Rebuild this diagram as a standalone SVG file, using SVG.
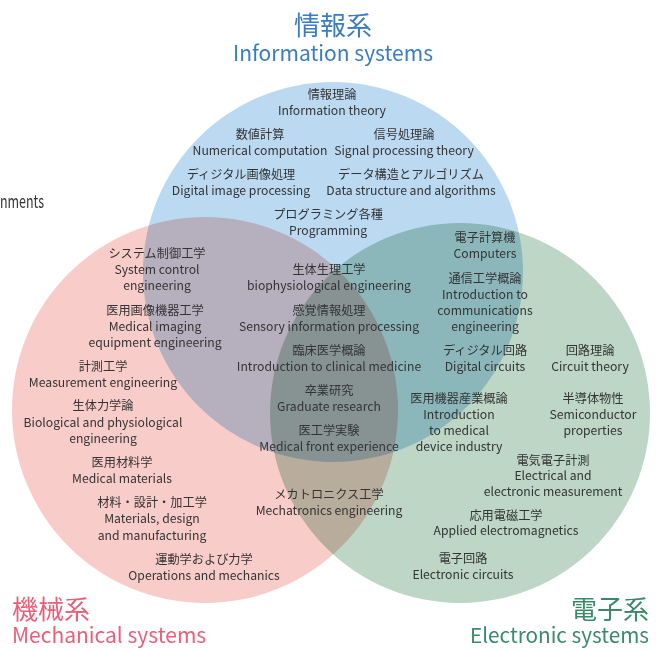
<svg xmlns="http://www.w3.org/2000/svg" width="666" height="651" viewBox="0 0 666 651">
<style>
text{font-family:"Noto Sans CJK JP","Noto Sans",sans-serif;}
.t{font-size:12.2px;fill:#333;text-anchor:middle;}
.c{mix-blend-mode:multiply;}
</style>
<rect width="666" height="651" fill="#fff"/>
<g id="circles" style="isolation:isolate">
<circle id="info-circle" class="c" cx="333" cy="272" r="190" fill="#bbdaf1"/>
<circle id="mech-circle" class="c" cx="205" cy="410" r="193" fill="#f8cdc9"/>
<circle id="elec-circle" class="c" cx="460" cy="413" r="190" fill="#bdd6c6"/>
</g>
<g id="titles">
<text x="333" y="35" font-size="26" fill="#3a7cc4" text-anchor="middle">情報系</text>
<text x="333" y="61" font-size="21" fill="#3a7cc4" text-anchor="middle">Information systems</text>
<text x="12" y="619" font-size="26" fill="#e8607a">機械系</text>
<text x="12" y="643" font-size="21" fill="#e8607a">Mechanical systems</text>
<text x="649" y="619" font-size="26" fill="#3a8a6a" text-anchor="end">電子系</text>
<text x="649" y="643" font-size="20.7" fill="#3a8a6a" text-anchor="end">Electronic systems</text>
<text x="0" y="208" font-size="18" fill="#333" textLength="44" lengthAdjust="spacingAndGlyphs">nments</text>
</g>
<g id="info">
<text class="t" x="332" y="99">情報理論</text><text class="t" x="332" y="115">Information theory</text>
<text class="t" x="260" y="139">数値計算</text><text class="t" x="260" y="155">Numerical computation</text>
<text class="t" x="404" y="139">信号処理論</text><text class="t" x="404" y="155">Signal processing theory</text>
<text class="t" x="241" y="179">ディジタル画像処理</text><text class="t" x="241" y="195">Digital image processing</text>
<text class="t" x="411" y="179">データ構造とアルゴリズム</text><text class="t" x="411" y="195">Data structure and algorithms</text>
<text class="t" x="328" y="219">プログラミング各種</text><text class="t" x="328" y="235">Programming</text>
</g>
<g id="mech">
<text class="t" x="157" y="258">システム制御工学</text><text class="t" x="157" y="274">System control</text><text class="t" x="157" y="290">engineering</text>
<text class="t" x="155" y="315">医用画像機器工学</text><text class="t" x="155" y="331">Medical imaging</text><text class="t" x="155" y="347">equipment engineering</text>
<text class="t" x="103" y="371">計測工学</text><text class="t" x="103" y="387">Measurement engineering</text>
<text class="t" x="103" y="410">生体力学論</text><text class="t" x="103" y="427">Biological and physiological</text><text class="t" x="103" y="443">engineering</text>
<text class="t" x="122" y="467">医用材料学</text><text class="t" x="122" y="483">Medical materials</text>
<text class="t" x="152" y="507">材料・設計・加工学</text><text class="t" x="152" y="523">Materials, design</text><text class="t" x="152" y="540">and manufacturing</text>
<text class="t" x="204" y="564">運動学および力学</text><text class="t" x="204" y="580">Operations and mechanics</text>
</g>
<g id="center">
<text class="t" x="329" y="274">生体生理工学</text><text class="t" x="329" y="290">biophysiological engineering</text>
<text class="t" x="329" y="315">感覚情報処理</text><text class="t" x="329" y="331">Sensory information processing</text>
<text class="t" x="329" y="355">臨床医学概論</text><text class="t" x="329" y="371">Introduction to clinical medicine</text>
<text class="t" x="329" y="395">卒業研究</text><text class="t" x="329" y="411">Graduate research</text>
<text class="t" x="329" y="435">医工学実験</text><text class="t" x="329" y="451">Medical front experience</text>
<text class="t" x="329" y="499">メカトロニクス工学</text><text class="t" x="329" y="515">Mechatronics engineering</text>
</g>
<g id="elec">
<text class="t" x="485" y="242">電子計算機</text><text class="t" x="485" y="258">Computers</text>
<text class="t" x="485" y="283">通信工学概論</text><text class="t" x="485" y="299">Introduction to</text><text class="t" x="485" y="315">communications</text><text class="t" x="485" y="331">engineering</text>
<text class="t" x="485" y="355">ディジタル回路</text><text class="t" x="485" y="371">Digital circuits</text>
<text class="t" x="590" y="355">回路理論</text><text class="t" x="590" y="371">Circuit theory</text>
<text class="t" x="459" y="403">医用機器産業概論</text><text class="t" x="459" y="419">Introduction</text><text class="t" x="459" y="435">to medical</text><text class="t" x="459" y="451">device industry</text>
<text class="t" x="593" y="403">半導体物性</text><text class="t" x="593" y="419">Semiconductor</text><text class="t" x="593" y="435">properties</text>
<text class="t" x="553" y="465">電気電子計測</text><text class="t" x="553" y="480">Electrical and</text><text class="t" x="553" y="496">electronic measurement</text>
<text class="t" x="506" y="520">応用電磁工学</text><text class="t" x="506" y="535">Applied electromagnetics</text>
<text class="t" x="463" y="563">電子回路</text><text class="t" x="463" y="579">Electronic circuits</text>
</g>
</svg>
